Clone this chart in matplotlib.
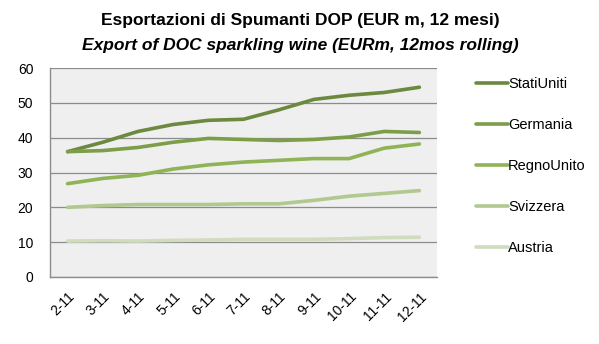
import matplotlib
matplotlib.use("Agg")
import matplotlib.pyplot as plt

months = ["2-11", "3-11", "4-11", "5-11", "6-11", "7-11", "8-11", "9-11", "10-11", "11-11", "12-11"]
stati_uniti = [36.0, 38.7, 41.8, 43.8, 45.0, 45.3, 48.0, 51.0, 52.2, 53.0, 54.5]
germania = [36.0, 36.3, 37.2, 38.7, 39.8, 39.5, 39.2, 39.5, 40.2, 41.8, 41.5]
regno_unito = [26.8, 28.3, 29.2, 31.0, 32.2, 33.0, 33.5, 34.0, 34.0, 37.0, 38.2]
svizzera = [20.0, 20.5, 20.8, 20.8, 20.8, 21.0, 21.0, 22.0, 23.2, 24.0, 24.8]
austria = [10.3, 10.4, 10.3, 10.5, 10.6, 10.8, 10.8, 10.8, 11.0, 11.3, 11.4]

series = [
    ("StatiUniti", stati_uniti, "#6b8a3f"),
    ("Germania", germania, "#7c9e48"),
    ("RegnoUnito", regno_unito, "#8fb356"),
    ("Svizzera", svizzera, "#b1c98f"),
    ("Austria", austria, "#d0dcbd"),
]

plt.rcParams["font.family"] = ["Liberation Sans", "DejaVu Sans"]

fig = plt.figure(figsize=(5.99, 3.44), dpi=100)
ax = fig.add_axes([0.0835, 0.195, 0.646, 0.607])
ax.set_facecolor("#efefef")

x = list(range(len(months)))
for name, vals, color in series:
    ax.plot(x, vals, color=color, linewidth=2.6, label=name, solid_capstyle="round")

ax.set_xlim(-0.5, len(months) - 0.5)
ax.set_ylim(0, 60)
ax.set_yticks(range(0, 61, 10))
ax.yaxis.grid(True, color="#8c8c8c", linewidth=0.9)
ax.set_axisbelow(True)
ax.set_xticks(x)
ax.set_xticklabels(months, rotation=45, ha="right", rotation_mode="anchor")
ax.tick_params(axis="both", length=0, labelsize=10, colors="black")
ax.tick_params(axis="x", pad=9)
ax.tick_params(axis="y", pad=12)
for s in ["top", "right"]:
    ax.spines[s].set_visible(False)
for s in ["left", "bottom"]:
    ax.spines[s].set_color("#8c8c8c")
    ax.spines[s].set_linewidth(1.0)

fig.legend(loc="upper left", bbox_to_anchor=(0.773, 0.813), frameon=False,
           handlelength=2.2, handletextpad=0.0, labelspacing=1.85, fontsize=10.5)

fig.text(0.502, 0.94, "Esportazioni di Spumanti DOP (EUR m, 12 mesi)",
         ha="center", va="center", fontsize=12.5, fontweight="bold")
fig.text(0.502, 0.868, "Export of DOC sparkling wine (EURm, 12mos rolling)",
         ha="center", va="center", fontsize=12.5, fontweight="bold", style="italic")

fig.savefig("out.png", dpi=100)
